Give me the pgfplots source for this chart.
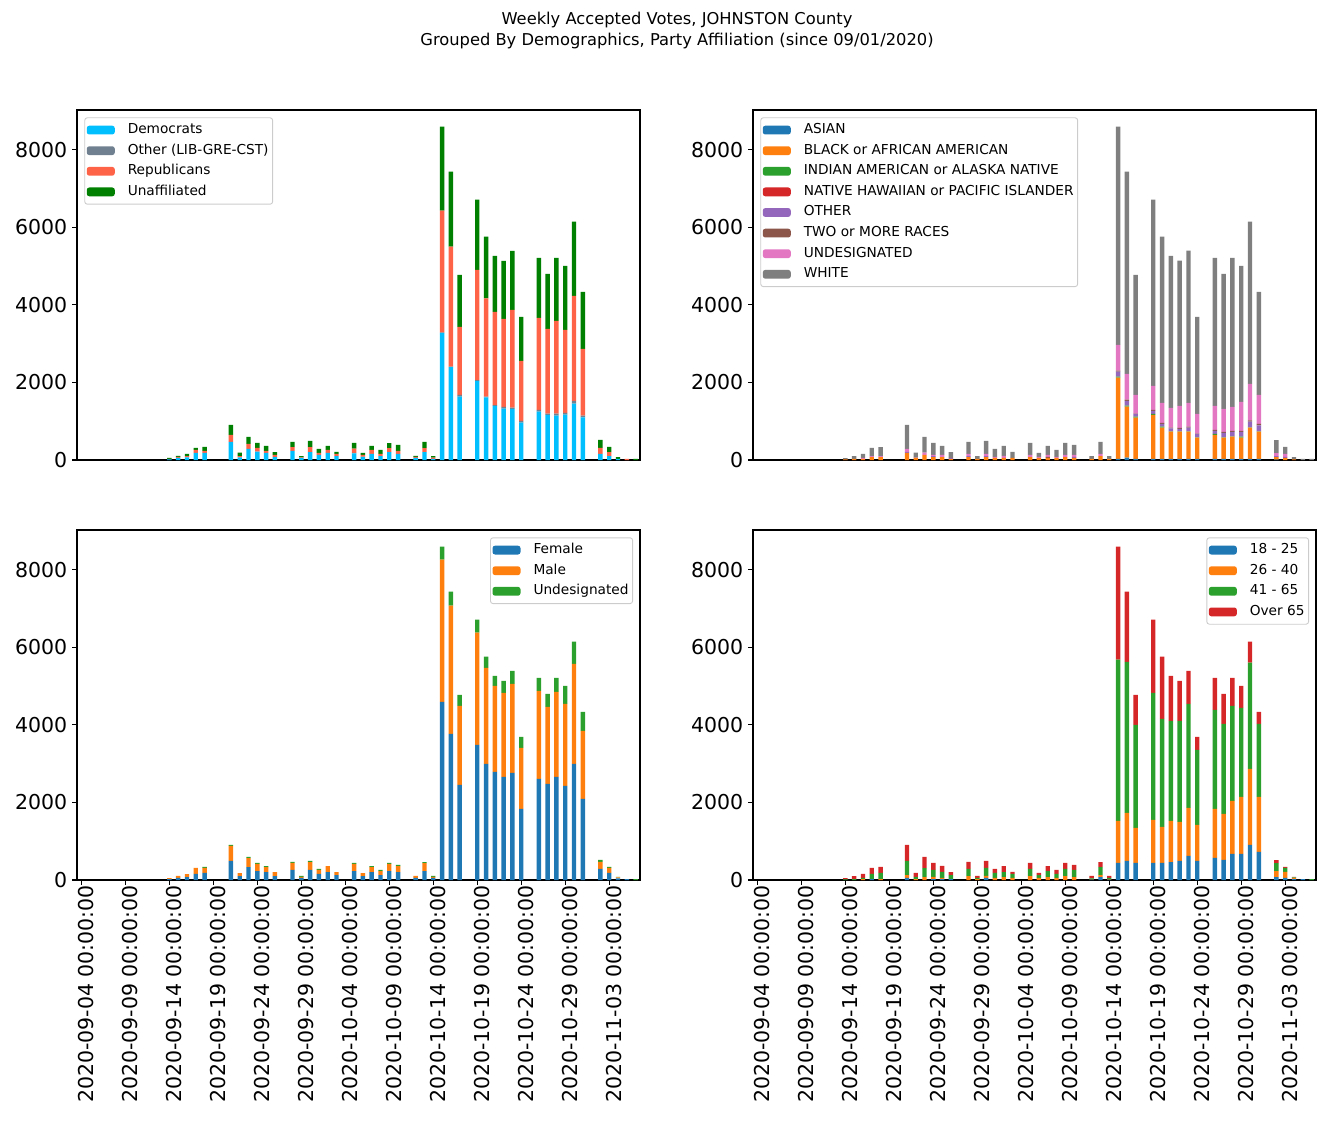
\documentclass[border=0pt]{standalone}
\usepackage{fontspec}
\setmainfont{DejaVu Sans}
\usepackage{pgfplots}
\usepackage{pgfplotstable}
\pgfplotsset{compat=1.18}

\definecolor{cDem}{HTML}{00BFFF}
\definecolor{cOth}{HTML}{708090}
\definecolor{cRep}{HTML}{FF6347}
\definecolor{cUna}{HTML}{008000}
\definecolor{tA}{HTML}{1F77B4}
\definecolor{tB}{HTML}{FF7F0E}
\definecolor{tC}{HTML}{2CA02C}
\definecolor{tD}{HTML}{D62728}
\definecolor{tE}{HTML}{9467BD}
\definecolor{tF}{HTML}{8C564B}
\definecolor{tG}{HTML}{E377C2}
\definecolor{tH}{HTML}{7F7F7F}
\definecolor{lgray}{HTML}{CCCCCC}

% party affiliation
\pgfplotstableread{
day D O R U
10 17 0 9 26
11 52 0 26 26
12 69 0 34 52
13 181 0 77 52
14 181 0 52 103
17 464 0 181 258
18 69 0 34 86
19 284 0 129 181
20 215 0 95 129
21 181 0 52 129
22 77 0 52 77
24 232 0 103 129
25 52 0 17 34
26 206 0 129 155
27 129 0 52 103
28 181 0 77 103
29 103 0 52 52
31 170 15 110 144
32 77 9 43 52
33 155 0 103 103
34 103 0 52 103
35 206 0 103 129
36 155 0 77 155
38 52 0 26 26
39 206 0 103 155
40 26 0 34 43
41 3268 20 3136 2167
42 2391 15 3090 1935
43 1634 43 1754 1342
45 2030 30 2838 1810
46 1614 20 2531 1589
47 1395 20 2400 1448
48 1324 43 2270 1497
49 1316 34 2520 1522
50 963 43 1548 1135
52 1247 43 2374 1548
53 1161 34 2184 1420
54 1144 52 2391 1625
55 1170 43 2141 1651
56 1453 69 2709 1909
57 1101 43 1720 1470
59 155 0 155 206
60 103 0 103 130
61 26 0 0 51
62 0 0 26 0
63 0 0 0 26
}\party

% race
\pgfplotstableread{
day As Bl In Ha Ot Tw Un Wh
10 0 17 0 0 0 0 0 33
11 0 26 0 0 0 0 0 77
12 0 26 0 0 0 0 26 103
13 0 77 0 0 0 0 26 207
14 0 77 0 0 0 0 26 232
17 0 181 0 0 26 0 77 619
18 0 52 0 0 0 9 9 119
19 0 129 0 0 0 0 60 404
20 0 77 0 0 26 0 26 310
21 0 77 0 0 0 0 52 232
22 0 26 0 0 26 0 0 154
24 0 77 0 0 26 0 52 309
25 0 26 0 0 0 0 0 77
26 0 77 0 0 26 0 52 335
27 0 52 0 0 0 0 26 206
28 0 52 0 0 0 0 52 257
29 0 52 0 0 0 0 0 155
31 0 77 0 0 0 0 52 310
32 0 52 0 0 0 0 26 103
33 0 52 0 0 0 26 52 231
34 0 52 0 0 0 0 26 180
35 0 77 0 0 0 0 52 310
36 0 52 0 0 26 0 52 257
38 0 26 0 0 0 0 0 77
39 0 103 0 0 0 0 52 310
40 0 26 0 0 0 0 0 77
41 26 2098 26 0 129 26 662 5624
42 60 1316 26 0 120 34 662 5212
43 26 1066 26 0 69 9 482 3096
45 26 1135 26 0 77 26 619 4799
46 26 808 26 0 69 26 516 4283
47 26 705 9 0 77 17 507 3922
48 26 705 9 0 60 26 568 3741
49 26 705 9 0 95 26 611 3922
50 26 550 9 0 86 9 507 2503
52 26 619 26 0 77 26 619 3818
53 26 550 9 0 112 26 593 3483
54 26 576 9 0 112 26 619 3844
55 26 550 26 0 120 26 748 3509
56 26 808 9 0 146 34 937 4180
57 26 705 9 0 155 34 748 2657
59 9 68 0 0 26 0 77 335
60 0 52 0 0 26 0 77 181
61 0 17 0 0 0 0 0 60
62 0 0 0 0 0 0 0 26
63 0 0 0 0 0 0 0 26
}\race

% gender
\pgfplotstableread{
day F M U
10 24 26 0
11 52 52 0
12 77 77 0
13 155 155 0
14 181 129 26
17 490 387 26
18 103 77 0
19 335 232 26
20 232 181 26
21 206 129 26
22 103 103 0
24 258 181 26
25 52 26 26
26 258 206 26
27 155 103 26
28 206 155 0
29 129 77 0
31 232 181 26
32 103 77 0
33 206 129 26
34 129 103 26
35 232 181 26
36 206 155 26
38 52 52 0
39 232 206 26
40 52 26 26
41 4592 3664 335
42 3767 3302 361
43 2451 2038 284
45 3483 2890 335
46 2993 2477 284
47 2786 2219 258
48 2657 2167 310
49 2761 2296 335
50 1832 1574 284
52 2606 2270 335
53 2477 1987 335
54 2657 2193 361
55 2425 2116 464
56 2993 2580 568
57 2090 1754 490
59 284 181 52
60 181 129 26
61 43 26 9
62 26 0 0
63 0 0 26
}\gender

% age
\pgfplotstableread{
day A B C D
10 0 0 17 33
11 0 0 26 77
12 0 26 26 103
13 26 0 129 155
14 0 26 155 155
17 52 77 361 413
18 0 26 52 103
19 0 77 232 284
20 26 52 181 181
21 26 26 155 155
22 26 0 103 77
24 0 103 181 181
25 0 26 26 52
26 52 52 206 181
27 0 52 129 103
28 0 77 129 155
29 0 52 103 52
31 0 103 181 155
32 0 52 77 52
33 0 77 155 129
34 0 52 103 103
35 0 103 181 155
36 0 77 181 129
38 9 9 26 60
39 77 52 206 129
40 9 17 26 52
41 439 1084 4154 2915
42 490 1238 3896 1806
43 439 903 2657 774
45 439 1109 3277 1883
46 439 929 2786 1600
47 464 1058 2580 1161
48 490 1006 2606 1032
49 619 1238 2683 851
50 490 929 1935 335
52 568 1264 2554 826
53 516 1187 2322 774
54 671 1367 2451 722
55 671 1471 2296 568
56 903 1961 2735 542
57 722 1419 1883 310
59 77 155 206 77
60 52 155 103 26
61 26 26 17 9
62 26 0 0 0
63 0 0 26 0
}\age

\pgfplotsset{
  panel/.style={
    scale only axis, width=563pt, height=350pt,
    anchor=south west,
    xmin=-0.5, xmax=63.5, ymin=0, ymax=9020,
    ybar stacked, bar width=0.5,
    axis line style={line width=1.1pt},
    tick style={black, line width=1.1pt},
    tick align=outside, tick pos=left,
    major tick length=4.8pt,
    ytick={0,2000,4000,6000,8000},
    scaled y ticks=false,
    /pgf/number format/1000 sep={},
    /pgf/number format/assume math mode=true,
    ticklabel style={font=\fontsize{20.5}{24}\selectfont},
    yticklabel style={inner sep=0pt, xshift=-4.8pt},
    legend cell align=left,
    legend style={font=\fontsize{13.7}{16}\selectfont, draw=lgray,
      line width=0.9pt, rounded corners=2.5pt, fill=white,
      inner sep=2pt, row sep=0pt,
      nodes={inner ysep=3.6pt, inner xsep=2pt, text height=10.2pt, text depth=3.2pt},
      /tikz/every odd column/.append style={column sep=11pt}},
    legend image code/.code={\fill[##1] (0pt,-4.4pt) rectangle (28pt,4.4pt);},
    every axis plot/.append style={draw=none},
  },
  toppanel/.style={panel, xtick=\empty},
  botpanel/.style={panel, xtick={0,5,...,60},
    xticklabels={2020-09-04 00:00:00,2020-09-09 00:00:00,2020-09-14 00:00:00,
      2020-09-19 00:00:00,2020-09-24 00:00:00,2020-09-29 00:00:00,
      2020-10-04 00:00:00,2020-10-09 00:00:00,2020-10-14 00:00:00,
      2020-10-19 00:00:00,2020-10-24 00:00:00,2020-10-29 00:00:00,
      2020-11-03 00:00:00},
    xticklabel style={rotate=90, anchor=east, inner sep=0pt, yshift=-4.8pt}},
}

\begin{document}
\begin{tikzpicture}
\path[use as bounding box] (0pt,0pt) rectangle (1326pt,-1137pt);
\node[align=center, inner sep=0pt, font=\fontsize{16.3}{21.5}\selectfont] at (677pt,-30.5pt)
  {Weekly Accepted Votes, JOHNSTON County\\Grouped By Demographics, Party Affiliation (since 09/01/2020)};

% party
\begin{axis}[toppanel, at={(77pt,-460pt)},
  legend style={at={(0.013,0.979)}, anchor=north west}]
\addplot[fill=cDem] table[x=day, y=D] {\party};
\addplot[fill=cOth] table[x=day, y=O] {\party};
\addplot[fill=cRep] table[x=day, y=R] {\party};
\addplot[fill=cUna] table[x=day, y=U] {\party};
\legend{Democrats, Other (LIB-GRE-CST), Republicans, Unaffiliated}
\end{axis}

% race
\begin{axis}[toppanel, at={(753pt,-460pt)},
  legend style={at={(0.013,0.979)}, anchor=north west}]
\addplot[fill=tA] table[x=day, y=As] {\race};
\addplot[fill=tB] table[x=day, y=Bl] {\race};
\addplot[fill=tC] table[x=day, y=In] {\race};
\addplot[fill=tD] table[x=day, y=Ha] {\race};
\addplot[fill=tE] table[x=day, y=Ot] {\race};
\addplot[fill=tF] table[x=day, y=Tw] {\race};
\addplot[fill=tG] table[x=day, y=Un] {\race};
\addplot[fill=tH] table[x=day, y=Wh] {\race};
\legend{ASIAN, BLACK or AFRICAN AMERICAN, INDIAN AMERICAN or ALASKA NATIVE,
  NATIVE HAWAIIAN or PACIFIC ISLANDER, OTHER, TWO or MORE RACES, UNDESIGNATED, WHITE}
\end{axis}

% gender
\begin{axis}[botpanel, at={(77pt,-880pt)},
  legend style={at={(0.9876,0.979)}, anchor=north east}]
\addplot[fill=tA] table[x=day, y=F] {\gender};
\addplot[fill=tB] table[x=day, y=M] {\gender};
\addplot[fill=tC] table[x=day, y=U] {\gender};
\legend{Female, Male, Undesignated}
\end{axis}

% age
\begin{axis}[botpanel, at={(753pt,-880pt)},
  legend style={at={(0.9876,0.979)}, anchor=north east}]
\addplot[fill=tA] table[x=day, y=A] {\age};
\addplot[fill=tB] table[x=day, y=B] {\age};
\addplot[fill=tC] table[x=day, y=C] {\age};
\addplot[fill=tD] table[x=day, y=D] {\age};
\legend{18 - 25, 26 - 40, 41 - 65, Over 65}
\end{axis}
\end{tikzpicture}
\end{document}
